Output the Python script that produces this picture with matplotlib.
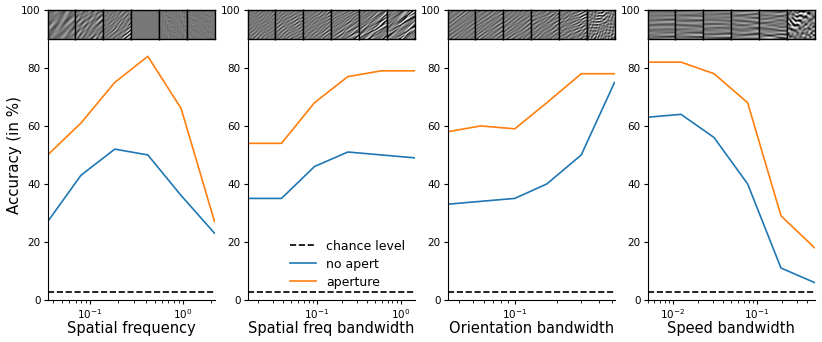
import numpy as np
import matplotlib.pyplot as plt

# x values (log scale) for each condition
sf_x = [0.035, 0.08, 0.185, 0.42, 0.96, 2.2]
sfb_x = [0.015, 0.038, 0.094, 0.235, 0.59, 1.47]
ori_x = [0.033, 0.057, 0.1, 0.17, 0.3, 0.52]
spd_x = [0.005, 0.0125, 0.031, 0.078, 0.195, 0.49]

# accuracies (%)
sf_noap = [27, 43, 52, 50, 36, 23]
sf_ap = [50, 61, 75, 84, 66, 27]
sfb_noap = [35, 35, 46, 51, 50, 49]
sfb_ap = [54, 54, 68, 77, 79, 79]
ori_noap = [33, 34, 35, 40, 50, 75]
ori_ap = [58, 60, 59, 68, 78, 78]
spd_noap = [63, 64, 56, 40, 11, 6]
spd_ap = [82, 82, 78, 68, 29, 18]

chance = 100 / 36

xlabels = ['Spatial frequency', 'Spatial freq bandwidth',
           'Orientation bandwidth', 'Speed bandwidth']
xs = [sf_x, sfb_x, ori_x, spd_x]
noaps = [sf_noap, sfb_noap, ori_noap, spd_noap]
aps = [sf_ap, sfb_ap, ori_ap, spd_ap]


def texture(panel, k, n=40):
    # small deterministic texture pictures for the thumbnails
    yy, xx = np.mgrid[0:n, 0:n] / n
    if panel == 0:
        f0, th, bth, bf = [5, 7, 11, 30, 45, 60][k], np.pi / 4, 0.25, 0.3
        amp = [1, 1, 0.9, 0.25, 0.15, 0.1][k]
    elif panel == 1:
        f0, th, bth, bf, amp = 10, np.pi / 3.3, 0.2, [0.05, 0.1, 0.2, 0.3, 0.45, 0.6][k], 1
    elif panel == 2:
        f0, th, bf, amp = 10, np.pi / 3.2, 0.2, 1
        bth = [0.05, 0.08, 0.12, 0.2, 0.35, 0.8][k]
    else:
        f0, th, bf, amp = 7, np.pi / 2, 0.3, 1
        bth = [0.05, 0.06, 0.08, 0.12, 0.2, 1.2][k]
    img = np.zeros((n, n))
    m = 40
    for j in range(m):
        u = (j * 0.618034 + 0.31 * k) % 1
        v = (j * 0.754878 + 0.17 * panel) % 1
        w = (j * 0.569840 + 0.11 * k) % 1
        a = th + (u - 0.5) * 2 * bth
        ff = f0 * (1 + (v - 0.5) * 2 * bf)
        img += np.sin(2 * np.pi * ff * (xx * np.cos(a) + yy * np.sin(a)) + 2 * np.pi * w)
    img = img / np.sqrt(m / 2)
    img = 0.47 + 0.3 * amp * img
    return img


fig = plt.figure(figsize=(8.22, 3.42), dpi=100)

for p in range(4):
    ax = fig.add_axes([0.058 + p * 0.2433, 0.123, 0.203, 0.848])
    ax.plot(xs[p], [chance] * 6, 'k--', lw=1.2, label='chance level')
    ax.plot(xs[p], noaps[p], color='C0', lw=1.2, label='no apert')
    ax.plot(xs[p], aps[p], color='C1', lw=1.2, label='aperture')
    ax.set_xscale('log')
    ax.set_xlim(xs[p][0], xs[p][-1])
    ax.set_ylim(0, 100)
    ax.spines['top'].set_visible(False)
    ax.spines['right'].set_visible(False)
    ax.tick_params(labelsize=7.5, length=3, pad=2)
    ax.tick_params(which='minor', length=1.8)
    ax.set_xlabel(xlabels[p], fontsize=10.5, labelpad=0)
    if p == 0:
        ax.set_ylabel('Accuracy (in %)', fontsize=10.8, labelpad=-1)
    if p == 1:
        ax.legend(loc='lower right', frameon=False, fontsize=9,
                  handlelength=2.1, labelspacing=0.4,
                  bbox_to_anchor=(1.01, 0.0))
    for k in range(6):
        ins = ax.inset_axes([k / 6, 0.9, 1 / 6, 0.1])
        ins.imshow(texture(p, k), cmap='gray', vmin=0, vmax=1, aspect='auto',
                   interpolation='bilinear')
        ins.set_xticks([])
        ins.set_yticks([])
        for s in ins.spines.values():
            s.set_linewidth(1)

fig.savefig('out.png', dpi=100)
